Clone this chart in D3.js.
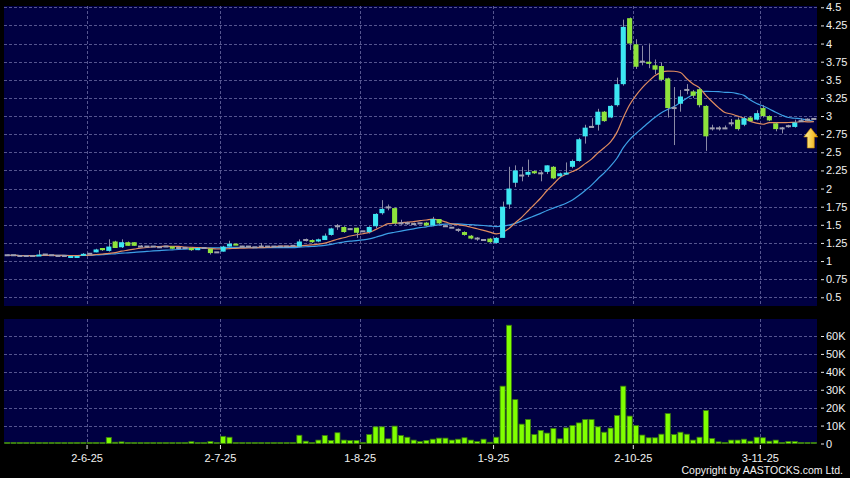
<!DOCTYPE html>
<html>
<head>
<meta charset="utf-8">
<script src="https://cdn.jsdelivr.net/npm/d3@7"></script>
<style>
  html, body { margin: 0; padding: 0; background: #000; }
  svg { display: block; font-family: Arial, "Liberation Sans", sans-serif; }
</style>
</head>
<body>
<svg id="chart" width="850" height="478"></svg>
<script>
// daily bars, 14 May 2025 .. 13 Nov 2025 (index 0..127)
const opens = [
  1.08,1.08,1.07,1.07,1.07,1.08,1.09,1.08,1.07,1.07, 1.05,1.06,1.08,1.10,1.12,1.18,1.14,1.27,1.19,1.26,
  1.26,1.20,1.20,1.20,1.19,1.20,1.20,1.18,1.18,1.18, 1.15,1.18,1.17,1.12,1.13,1.20,1.24,1.20,1.20,1.19,
  1.20,1.20,1.20,1.20,1.20,1.21,1.20,1.29,1.29,1.27, 1.29,1.36,1.48,1.47,1.44,1.46,1.41,1.40,1.48,1.66,
  1.74,1.73,1.52,1.52,1.51,1.52,1.53,1.49,1.58,1.48, 1.46,1.43,1.40,1.35,1.31,1.29,1.31,1.25,1.32,1.78,
  2.08,2.18,2.19,2.24,2.21,2.23,2.30,2.17,2.20,2.30, 2.38,2.72,2.85,2.88,3.06,2.98,3.15,3.44,4.35,3.99,
  3.75,3.75,3.70,3.69,3.52,3.11,3.17,3.36,3.34,3.37, 3.14,2.83,2.83,2.83,2.90,2.95,2.88,2.98,2.95,3.11,
  3.00,2.90,2.83,2.86,2.85,2.93,2.95,2.96
];
const highs = [
  1.08,1.08,1.08,1.07,1.07,1.15,1.09,1.08,1.07,1.07, 1.07,1.07,1.11,1.10,1.17,1.18,1.30,1.28,1.30,1.27,
  1.26,1.22,1.20,1.20,1.19,1.20,1.20,1.18,1.18,1.19, 1.19,1.18,1.17,1.12,1.21,1.28,1.24,1.21,1.20,1.19,
  1.25,1.20,1.20,1.20,1.21,1.21,1.30,1.31,1.30,1.31, 1.38,1.46,1.51,1.48,1.45,1.46,1.41,1.48,1.66,1.84,
  1.78,1.74,1.57,1.54,1.53,1.52,1.54,1.61,1.58,1.50, 1.46,1.45,1.41,1.36,1.33,1.29,1.32,1.33,1.82,2.30,
  2.32,2.30,2.40,2.25,2.24,2.32,2.31,2.22,2.36,2.40, 2.70,2.88,2.97,3.10,3.07,3.15,3.53,4.33,4.36,4.06,
  3.97,4.00,3.78,3.74,3.53,3.40,3.36,3.44,3.36,3.40, 3.15,2.88,2.86,2.87,2.96,2.98,2.99,3.00,3.08,3.15,
  3.01,2.91,2.85,2.88,2.95,2.97,2.97,2.97
];
const lows = [
  1.08,1.08,1.07,1.07,1.07,1.08,1.09,1.08,1.07,1.07, 1.05,1.05,1.08,1.10,1.12,1.14,1.13,1.18,1.18,1.21,
  1.21,1.20,1.19,1.20,1.19,1.20,1.17,1.18,1.18,1.14, 1.15,1.18,1.09,1.12,1.13,1.20,1.22,1.19,1.20,1.19,
  1.20,1.20,1.19,1.20,1.20,1.21,1.19,1.27,1.25,1.26, 1.29,1.35,1.43,1.39,1.43,1.32,1.41,1.38,1.45,1.64,
  1.70,1.50,1.50,1.50,1.50,1.52,1.48,1.48,1.51,1.47, 1.46,1.40,1.35,1.30,1.28,1.29,1.25,1.24,1.32,1.72,
  2.02,2.10,2.16,2.20,2.10,2.20,2.13,2.15,2.19,2.28, 2.37,2.62,2.84,2.80,2.92,2.97,3.13,3.42,3.91,3.65,
  3.70,3.66,3.58,3.48,2.98,2.60,3.06,3.30,3.25,3.12, 2.52,2.80,2.80,2.82,2.86,2.80,2.86,2.92,2.94,2.98,
  2.93,2.79,2.76,2.84,2.84,2.92,2.93,2.95
];
const closes = [
  1.08,1.08,1.07,1.07,1.07,1.09,1.09,1.08,1.07,1.07, 1.07,1.07,1.10,1.10,1.16,1.15,1.20,1.18,1.26,1.21,
  1.21,1.20,1.20,1.20,1.19,1.20,1.17,1.18,1.18,1.15, 1.18,1.18,1.11,1.12,1.20,1.24,1.22,1.20,1.20,1.19,
  1.20,1.20,1.20,1.20,1.20,1.21,1.27,1.29,1.26,1.30, 1.35,1.45,1.48,1.40,1.44,1.39,1.41,1.47,1.65,1.72,
  1.74,1.52,1.52,1.52,1.51,1.52,1.49,1.58,1.52,1.48, 1.46,1.43,1.36,1.31,1.31,1.29,1.26,1.32,1.75,2.00,
  2.25,2.18,2.23,2.21,2.21,2.32,2.14,2.21,2.22,2.38, 2.68,2.84,2.85,3.06,2.93,3.14,3.44,4.23,4.00,3.68,
  3.75,3.72,3.64,3.50,3.11,3.11,3.27,3.36,3.28,3.15, 2.72,2.83,2.83,2.83,2.90,2.82,2.97,2.93,3.04,3.00,
  2.94,2.82,2.83,2.86,2.91,2.93,2.95,2.96
];
// volume in thousands of shares
const volumes = [
  0,0,0.2,0,0,0.3,0,0.2,0,0, 0.3,0.6,0.3,0,0.6,0.2,3.4,0.7,0.9,0.6,
  0.5,0.1,0.4,0,0,0,0.3,0,0,1.0, 0.4,0.4,1.1,0.1,4.0,3.5,0.2,0.5,0,0,
  0.3,0.3,0.3,0.3,0.3,0.3,4.6,1.3,0.6,1.9, 4.5,1.7,6.0,1.9,1.7,1.7,0.5,5.0,9.3,9.3,
  2.6,9.7,4.5,3.5,1.9,1.1,1.7,2.4,3.0,3.0, 1.9,2.4,3.2,1.9,1.1,2.4,0.7,3.5,32,66,
  24.5,10.8,13.4,5.0,7.3,5.8,8.4,2.6,8.7,10.0, 11.5,13.4,13.4,9.3,6.3,8.6,15.6,32,15.3,10.0,
  4.7,3.2,3.2,5.2,16.7,5.0,6.3,5.2,1.9,3.5, 18.4,2.8,0.9,0.6,1.9,1.9,2.4,1.3,3.5,3.2,
  1.3,1.9,0.6,1.1,1.1,0.4,0.4,0.2
];
const tickIdx = [13, 34, 56, 77, 99, 119];
const tickLabels = ["2-6-25", "2-7-25", "1-8-25", "1-9-25", "2-10-25", "3-11-25"];
const priceTicks = [0.5, 0.75, 1, 1.25, 1.5, 1.75, 2, 2.25, 2.5, 2.75, 3, 3.25, 3.5, 3.75, 4, 4.25, 4.5];
const volTicks = [0, 10, 20, 30, 40, 50, 60];
const maShort = 10, maLong = 20;

const svg = d3.select("#chart");
const left = 4, right = 817;
const n = closes.length;

const x = d3.scaleBand().domain(d3.range(n)).range([left, right])
  .paddingInner(0.2).paddingOuter(0.1);
const xEdge = d3.scaleLinear().domain([0, n]).range([left, right]);
const cx = i => x(i) + x.bandwidth() / 2;

const yP = d3.scaleLinear().domain([0.5, 4.5]).range([297.3, 7.3]);
const yV = d3.scaleLinear().domain([0, 60]).range([443.5, 336]);

const panelBg = "#000042";
const gridColor = "#55558f";
const upColor = "#3ce6f2";
const downColor = "#8ee33c";
const flatColor = "#a0a0b0";

// panels
svg.append("rect").attr("x", left).attr("y", 6).attr("width", right - left).attr("height", 300).attr("fill", panelBg);
svg.append("rect").attr("x", left).attr("y", 319).attr("width", right - left).attr("height", 124.5).attr("fill", panelBg);

// grid
const grid = svg.append("g").attr("stroke", gridColor).attr("stroke-width", 1).attr("stroke-dasharray", "3,2");
grid.selectAll(".hp").data(priceTicks).enter().append("line")
  .attr("x1", left).attr("x2", right)
  .attr("y1", d => Math.round(yP(d)) + 0.5).attr("y2", d => Math.round(yP(d)) + 0.5);
grid.selectAll(".hv").data(volTicks.filter(d => d > 0)).enter().append("line")
  .attr("x1", left).attr("x2", right)
  .attr("y1", d => Math.round(yV(d)) + 0.5).attr("y2", d => Math.round(yV(d)) + 0.5);
grid.selectAll(".vp").data(tickIdx).enter().append("line")
  .attr("x1", d => Math.round(xEdge(d)) + 0.5).attr("x2", d => Math.round(xEdge(d)) + 0.5)
  .attr("y1", 6).attr("y2", 306);
grid.selectAll(".vv").data(tickIdx).enter().append("line")
  .attr("x1", d => Math.round(xEdge(d)) + 0.5).attr("x2", d => Math.round(xEdge(d)) + 0.5)
  .attr("y1", 319).attr("y2", 443.5);

// moving averages
function sma(period) {
  return closes.map((c, i) => d3.mean(closes.slice(Math.max(0, i - period + 1), i + 1)));
}
const line = d3.line().x((d, i) => cx(i)).y(d => yP(d)).curve(d3.curveMonotoneX);
svg.append("path").datum(sma(maLong)).attr("d", line)
  .attr("fill", "none").attr("stroke", "#3d9fe6").attr("stroke-width", 1.2);
svg.append("path").datum(sma(maShort)).attr("d", line)
  .attr("fill", "none").attr("stroke", "#e08c60").attr("stroke-width", 1.2);

// candles
const bars = d3.range(n);
const candles = svg.append("g");
candles.selectAll(".wick").data(bars).enter().append("line")
  .attr("x1", i => Math.round(cx(i)) + 0.5).attr("x2", i => Math.round(cx(i)) + 0.5)
  .attr("y1", i => yP(highs[i])).attr("y2", i => yP(lows[i]))
  .attr("stroke", "#8a8aa6").attr("stroke-width", 1);
candles.selectAll(".body").data(bars).enter().append("rect")
  .attr("x", i => x(i))
  .attr("width", x.bandwidth())
  .attr("y", i => {
    if (opens[i] === closes[i]) return yP(closes[i]) - 1;
    return yP(Math.max(opens[i], closes[i]));
  })
  .attr("height", i => {
    if (opens[i] === closes[i]) return 2;
    return Math.max(2, Math.abs(yP(opens[i]) - yP(closes[i])));
  })
  .attr("fill", i => closes[i] > opens[i] ? upColor : closes[i] < opens[i] ? downColor : flatColor);

// volume
svg.append("g").selectAll("rect").data(bars).enter().append("rect")
  .attr("x", i => x(i))
  .attr("width", x.bandwidth())
  .attr("y", i => Math.min(yV(volumes[i]), yV(0) - 1))
  .attr("height", i => Math.max(1, yV(0) - yV(volumes[i])))
  .attr("fill", "#80ff00").attr("stroke", "#3a7a10").attr("stroke-width", 0.8);

// axes
function styleAxis(g) {
  g.select(".domain").remove();
  g.selectAll(".tick line").attr("stroke", "#e8e8e8");
  g.selectAll(".tick text").attr("fill", "#f2f2f2").style("font-size", "11px");
}
svg.append("g").attr("transform", "translate(821,0)")
  .call(d3.axisRight(yP).tickValues(priceTicks).tickSize(3).tickPadding(2).tickFormat(d => String(d)))
  .call(styleAxis);
svg.append("g").attr("transform", "translate(821,0)")
  .call(d3.axisRight(yV).tickValues(volTicks).tickSize(3).tickPadding(2).tickFormat(d => d === 0 ? "0" : d + "K"))
  .call(styleAxis);
svg.append("g").attr("transform", "translate(0,445)")
  .call(d3.axisBottom(xEdge).tickValues(tickIdx).tickSize(4).tickPadding(5)
    .tickFormat((d, k) => tickLabels[k]))
  .call(styleAxis);

// last price marker
const ax = cx(n - 1) - 3, ay = 128;
const grad = svg.append("defs").append("linearGradient").attr("id", "arrowGrad")
  .attr("x1", 0).attr("x2", 1).attr("y1", 0).attr("y2", 0);
grad.append("stop").attr("offset", "0%").attr("stop-color", "#fff3a0");
grad.append("stop").attr("offset", "100%").attr("stop-color", "#f0a800");
svg.append("path")
  .attr("d", `M${ax},${ay} L${ax + 7},${ay + 9} L${ax + 3.5},${ay + 9} L${ax + 3.5},${ay + 20} L${ax - 3.5},${ay + 20} L${ax - 3.5},${ay + 9} L${ax - 7},${ay + 9} Z`)
  .attr("fill", "url(#arrowGrad)").attr("stroke", "#c08000").attr("stroke-width", 0.6);

svg.append("text").attr("x", 843).attr("y", 474).attr("text-anchor", "end")
  .attr("fill", "#f2f2f2").style("font-size", "10.5px")
  .text("Copyright by AASTOCKS.com Ltd.");
</script>
</body>
</html>
